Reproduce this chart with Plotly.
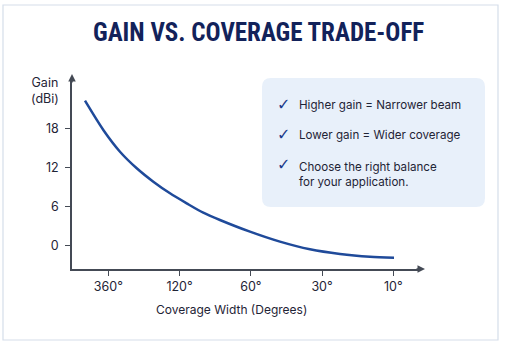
import plotly.graph_objects as go

# ---- data ----
tick_labels = ["360°", "120°", "60°", "30°", "10°"]
tick_pos = [0, 1, 2, 3, 4]
curve_x = [-0.327, -0.070, 0.164, 0.399, 0.632, 0.866, 1.100, 1.333, 1.567,
           1.988, 2.409, 2.830, 3.252, 3.673, 4.01]
curve_gain = [22.31, 17.80, 14.45, 11.90, 9.83, 8.04, 6.50, 5.05, 3.93,
              2.13, 0.59, -0.59, -1.31, -1.73, -1.88]
y_ticks = [0, 6, 12, 18]
notes = ["Higher gain = Narrower beam", "Lower gain = Wider coverage",
         "Choose the right balance<br>for your application."]

W, H = 505, 346
L, R, T, B = 72, 85, 80, 77
PW, PH = W - L - R, H - T - B


def px(x):
    return (x - L) / PW


def py(y):
    return (H - B - y) / PH


NAVY = "#12225a"
LINE = "#1f4a9a"
AX = "#444a55"
TXT = "#1f2436"
FONT = "Inter, Roboto, DejaVu Sans, sans-serif"

fig = go.Figure()
fig.add_trace(go.Scatter(x=curve_x, y=curve_gain, mode="lines",
                         line=dict(color=LINE, width=2.5, shape="spline", smoothing=0.8),
                         hoverinfo="skip"))

shapes = []
# outer frame
shapes.append(dict(type="rect", xref="paper", yref="paper",
                   x0=px(3), x1=px(498), y0=py(340), y1=py(5),
                   line=dict(color="#d5deea", width=1.2), fillcolor="rgba(0,0,0,0)", layer="below"))


def rounded(x0, y0, x1, y1, r):
    rx, ry = r / PW, r / PH
    a, b, c, d = px(x0), py(y1), px(x1), py(y0)
    return (f"M {a+rx},{b} L {c-rx},{b} Q {c},{b} {c},{b+ry} L {c},{d-ry} "
            f"Q {c},{d} {c-rx},{d} L {a+rx},{d} Q {a},{d} {a},{d-ry} "
            f"L {a},{b+ry} Q {a},{b} {a+rx},{b} Z")


shapes.append(dict(type="path", xref="paper", yref="paper",
                   path=rounded(262, 78, 485, 207, 9),
                   fillcolor="#e8f0fa", line=dict(width=0), layer="below"))


def text(t, x, y, size, color=TXT, family=FONT, xanchor="center", align="center"):
    return dict(text=t, xref="paper", yref="paper", x=px(x), y=py(y),
                xanchor=xanchor, yanchor="middle", showarrow=False, align=align,
                font=dict(family=family, size=size, color=color))


ann = []
ann.append(text("<b>GAIN VS. COVERAGE TRADE-OFF</b>", 258, 32, 25, NAVY,
                "Liberation Sans Narrow, Roboto Condensed, DejaVu Sans Condensed, Arial Narrow, sans-serif"))
ann.append(text("Gain<br>(dBi)", 45, 90, 12.5))
ann.append(text("Coverage Width (Degrees)", 231, 309, 12))
# axis arrows
ann.append(dict(text="", xref="paper", yref="paper", x=px(72), y=py(74), ax=0, ay=10,
                showarrow=True, arrowhead=2, arrowsize=1, arrowwidth=1.5, arrowcolor=AX))
ann.append(dict(text="", xref="paper", yref="paper", x=px(425), y=py(269), ax=-10, ay=0,
                showarrow=True, arrowhead=2, arrowsize=1, arrowwidth=1.5, arrowcolor=AX))
# notes
check_y = [104, 134, 164]
note_y = [105, 135, 174]
for t, cy, ny in zip(notes, check_y, note_y):
    ann.append(text("✓", 283, cy, 16, "#1d3a8a", "DejaVu Sans"))
    ann.append(text(t, 297, ny, 11.6, xanchor="left", align="left"))

fig.update_layout(
    width=W, height=H, margin=dict(l=L, r=R, t=T, b=B),
    paper_bgcolor="white", plot_bgcolor="white", showlegend=False,
    shapes=shapes, annotations=ann,
    xaxis=dict(range=[(72 - 108.3) / 71.25, (420 - 108.3) / 71.25], tickvals=tick_pos, ticktext=tick_labels,
               showline=True, linecolor=AX, linewidth=1.5, ticks="outside", ticklen=5,
               tickcolor=AX, showgrid=False, zeroline=False,
               tickfont=dict(family=FONT, size=12.5, color=TXT)),
    yaxis=dict(range=[(245.5 - 269) / 6.49, (245.5 - 80) / 6.49], tickvals=y_ticks,
               showline=True, linecolor=AX, linewidth=1.5, ticks="outside", ticklen=5,
               tickcolor=AX, showgrid=False, zeroline=False, ticklabelstandoff=4,
               tickfont=dict(family=FONT, size=12.5, color=TXT)),
)
fig.write_html("out.html")
